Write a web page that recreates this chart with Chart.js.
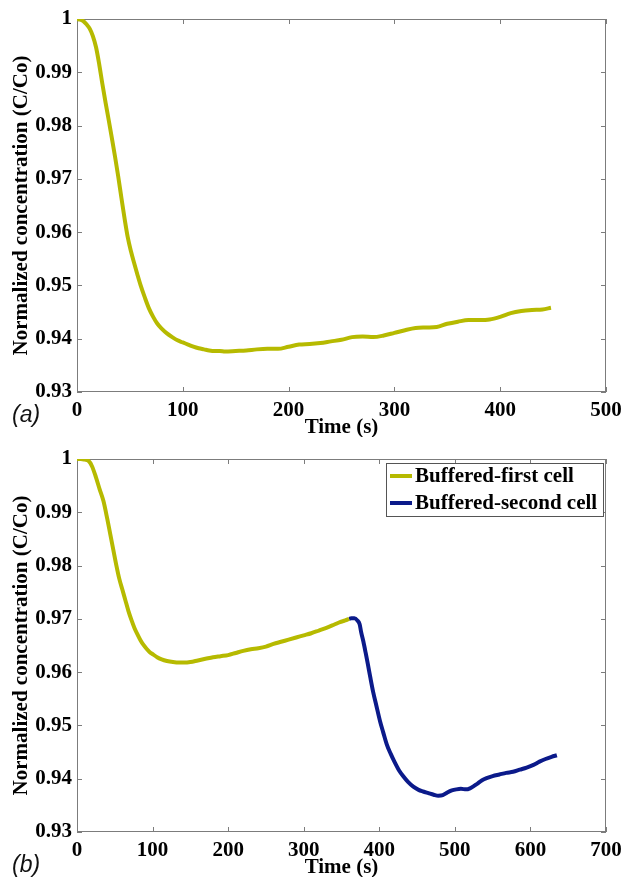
<!DOCTYPE html>
<html>
<head>
<meta charset="utf-8">
<title>Normalized concentration</title>
<script src="https://cdn.jsdelivr.net/npm/chart.js@4.4.0/dist/chart.umd.min.js"></script>
<style>
  body { margin: 0; background: #fff; }
  #wrap { position: relative; width: 623px; height: 877px; }
  .panel { position: absolute; left: 0; width: 623px; height: 437px; }
  .tag { position: absolute; left: 12px; font: italic 23px "Liberation Sans", Arial, sans-serif; color: #111; line-height: 1; }
</style>
</head>
<body>
<div id="wrap">
  <div class="panel" style="top:0"><canvas id="chartA"></canvas></div>
  <div class="panel" style="top:440px"><canvas id="chartB"></canvas></div>
  <div class="tag" style="top:403px">(a)</div>
  <div class="tag" style="top:853px">(b)</div>
</div>

<script>
// values (time in s, C/Co)

// panel (a)
const timeA = [0, 3, 6, 9, 12, 15, 18, 21, 24, 27, 30, 33, 36, 39, 42, 45, 48, 51, 54, 57,
  60, 64, 68, 72, 76, 80, 85, 90, 95, 100, 105, 110, 115, 120, 125, 130, 135, 140, 150, 160,
  170, 180, 190, 200, 210, 220, 230, 240, 250, 260, 270, 280, 290, 300, 310, 320, 330, 340,
  350, 360, 370, 380, 390, 400, 410, 420, 430, 440, 448];
const concA = [1.0, 0.9999, 0.9996, 0.999, 0.9982, 0.9968, 0.9947, 0.9915, 0.9878, 0.9843,
  0.981, 0.9776, 0.9741, 0.9704, 0.9664, 0.9625, 0.959, 0.9564, 0.9542, 0.9521, 0.9501,
  0.9478, 0.9457, 0.9441, 0.9428, 0.9419, 0.941, 0.9403, 0.9397, 0.9393, 0.9389, 0.9385,
  0.9382, 0.938, 0.9378, 0.9377, 0.9377, 0.9376, 0.9377, 0.9378, 0.938, 0.9381, 0.9381,
  0.9385, 0.9389, 0.939, 0.9392, 0.9395, 0.9398, 0.9403, 0.9404, 0.9403, 0.9406, 0.9411,
  0.9416, 0.942, 0.9421, 0.9422, 0.9428, 0.9432, 0.9435, 0.9435, 0.9436, 0.9441, 0.9448,
  0.9452, 0.9454, 0.9455, 0.9458];

// panel (b), first cell
const timeB1 = [0, 5, 10, 15, 20, 25, 30, 35, 40, 44, 48, 52, 56, 60, 64, 68, 72, 76, 80, 84,
  88, 92, 96, 101, 106, 112, 119, 127, 135, 142, 150, 160, 170, 180, 190, 200, 210, 220, 230,
  240, 250, 260, 270, 280, 290, 300, 310, 320, 330, 340, 348, 355, 360];
const concB1 = [1.0, 1.0, 0.9999, 0.9997, 0.9986, 0.9966, 0.9943, 0.9921, 0.9888, 0.9859,
  0.983, 0.9801, 0.9775, 0.9755, 0.9735, 0.9715, 0.9698, 0.9683, 0.9671, 0.966, 0.9651,
  0.9644, 0.9638, 0.9633, 0.9628, 0.9624, 0.9621, 0.9619, 0.9618, 0.9618, 0.9619, 0.9622,
  0.9625, 0.9628, 0.963, 0.9632, 0.9636, 0.964, 0.9643, 0.9645, 0.9648, 0.9653, 0.9657,
  0.9661, 0.9665, 0.9669, 0.9673, 0.9678, 0.9683, 0.9689, 0.9694, 0.9697, 0.97];

// panel (b), second cell
const timeB2 = [360, 363, 367, 371, 374, 376, 379, 382, 385, 388, 392, 396, 401, 405, 410, 415,
  420, 426, 432, 438, 445, 452, 458, 465, 472, 478, 484, 490, 496, 502, 508, 515, 520, 525,
  530, 536, 542, 550, 559, 568, 577, 586, 595, 604, 612, 620, 628, 635];
const concB2 = [0.97, 0.9701, 0.9701, 0.9697, 0.969, 0.9675, 0.9657, 0.9636, 0.9614, 0.9591,
  0.9562, 0.9538, 0.9508, 0.9488, 0.9464, 0.9447, 0.9432, 0.9416, 0.9404, 0.9394, 0.9385,
  0.9379, 0.9376, 0.9373, 0.937, 0.9368, 0.9369, 0.9374, 0.9378, 0.938, 0.9381, 0.938,
  0.9382, 0.9386, 0.9391, 0.9397, 0.9401, 0.9405, 0.9408, 0.9411, 0.9413, 0.9417, 0.9421,
  0.9426, 0.9432, 0.9437, 0.9441, 0.9444];

const yTicks = { min: 0.93, max: 1, step: 0.01 };
const xMaxA = 500;
const xMaxB = 700;
const xStep = 100;

const labelFirst = "Buffered-first cell";
const labelSecond = "Buffered-second cell";

const yellow = "#b6ba00";
const navy = "#0b1a8a";
const serif = '"Liberation Serif", "Times New Roman", serif';

function toPoints(xs, ys) {
  return xs.map((x, i) => ({ x: x, y: ys[i] }));
}

// matlab style box with inward ticks on all four sides
const matlabFrame = {
  id: "matlabFrame",
  beforeDatasetsDraw(chart) {
    const { ctx, chartArea: a, scales } = chart;
    ctx.save();
    ctx.strokeStyle = "#7c7c7c";
    ctx.lineWidth = 1;
    ctx.strokeRect(a.left + 0.5, a.top + 0.5, a.right - a.left - 1, a.bottom - a.top - 1);
    ctx.beginPath();
    scales.x.ticks.forEach((t) => {
      const px = Math.round(scales.x.getPixelForValue(t.value)) + 0.5;
      ctx.moveTo(px, a.bottom);
      ctx.lineTo(px, a.bottom - 5);
      ctx.moveTo(px, a.top);
      ctx.lineTo(px, a.top + 5);
    });
    scales.y.ticks.forEach((t) => {
      const py = Math.round(scales.y.getPixelForValue(t.value)) + 0.5;
      ctx.moveTo(a.left, py);
      ctx.lineTo(a.left + 5, py);
      ctx.moveTo(a.right, py);
      ctx.lineTo(a.right - 5, py);
    });
    ctx.stroke();
    ctx.restore();
  },
};

// legend box in the upper right corner of the plot
const insideLegend = {
  id: "insideLegend",
  afterDatasetsDraw(chart) {
    const { ctx, chartArea: a } = chart;
    const sets = chart.data.datasets;
    const w = 217, h = 53;
    const left = a.right - 3 - w;
    const top = a.top + 4;
    ctx.save();
    ctx.fillStyle = "#fff";
    ctx.fillRect(left, top, w, h);
    ctx.strokeStyle = "#555";
    ctx.lineWidth = 1;
    ctx.strokeRect(left + 0.5, top + 0.5, w, h);
    ctx.font = "bold 21px " + serif;
    ctx.textBaseline = "middle";
    sets.forEach((ds, i) => {
      const cy = top + 13 + i * 27;
      ctx.strokeStyle = ds.borderColor;
      ctx.lineWidth = 4;
      ctx.beginPath();
      ctx.moveTo(left + 4, cy);
      ctx.lineTo(left + 26, cy);
      ctx.stroke();
      ctx.fillStyle = "#000";
      ctx.fillText(ds.label, left + 29, cy + 1);
    });
    ctx.restore();
  },
};

const hiddenGrid = (len) => ({ display: false, drawTicks: true, tickLength: len, color: "rgba(0,0,0,0)" });

function makeOptions(xMax) {
  return {
    responsive: true,
    maintainAspectRatio: false,
    animation: false,
    layout: { padding: { top: 19, right: 17, bottom: 0, left: 0 } },
    plugins: { legend: { display: false }, tooltip: { enabled: false } },
    elements: { point: { radius: 0 } },
    scales: {
      x: {
        type: "linear",
        min: 0,
        max: xMax,
        ticks: { stepSize: xStep, padding: 0, maxRotation: 0, color: "#000", font: { family: serif, size: 21, weight: "bold" } },
        grid: hiddenGrid(6),
        border: { display: false },
        title: { display: true, text: "Time (s)", color: "#000", font: { family: serif, size: 21, weight: "bold" }, padding: { top: 0, bottom: -3 } },
        afterFit: (s) => { s.height = 45; },
      },
      y: {
        type: "linear",
        min: yTicks.min,
        max: yTicks.max,
        ticks: {
          stepSize: yTicks.step,
          padding: 0,
          color: "#000",
          font: { family: serif, size: 21, weight: "bold" },
          callback: (v) => String(+v.toFixed(2)),
        },
        grid: hiddenGrid(5),
        border: { display: false },
        title: { display: true, text: "Normalized concentration (C/Co)", color: "#000", font: { family: serif, size: 21, weight: "bold" }, padding: { top: 9, bottom: 0 } },
        afterFit: (s) => { s.width = 77; },
      },
    },
  };
}

new Chart("chartA", {
  type: "line",
  data: {
    datasets: [
      {
        label: labelFirst,
        data: toPoints(timeA, concA),
        borderColor: yellow,
        borderWidth: 4,
        cubicInterpolationMode: "monotone",
        fill: false,
      },
    ],
  },
  options: makeOptions(xMaxA),
  plugins: [matlabFrame],
});

new Chart("chartB", {
  type: "line",
  data: {
    datasets: [
      {
        label: labelFirst,
        data: toPoints(timeB1, concB1),
        borderColor: yellow,
        borderWidth: 4,
        cubicInterpolationMode: "monotone",
        fill: false,
      },
      {
        label: labelSecond,
        data: toPoints(timeB2, concB2),
        borderColor: navy,
        borderWidth: 4,
        cubicInterpolationMode: "monotone",
        fill: false,
      },
    ],
  },
  options: makeOptions(xMaxB),
  plugins: [matlabFrame, insideLegend],
});
</script>
</body>
</html>
